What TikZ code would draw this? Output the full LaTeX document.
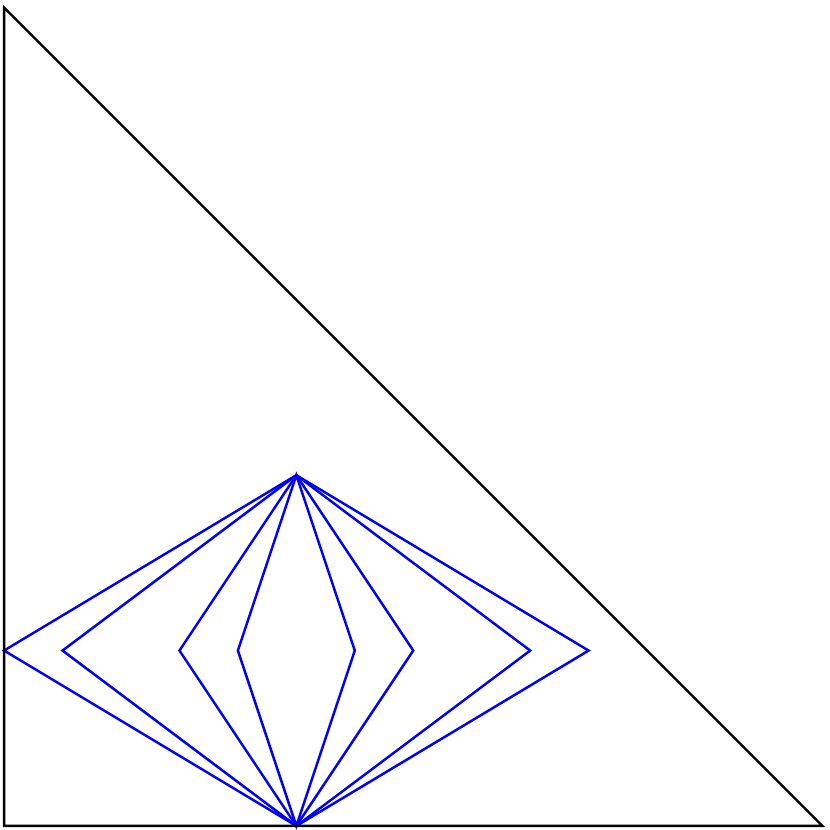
\documentclass[tikz,border=0pt]{standalone}
\begin{document}
\begin{tikzpicture}[
  tri/.style={black, line width=0.6pt},
  quad/.style={blue, line width=0.6pt, line join=miter}]
\useasboundingbox (-0.035,-0.035) rectangle (7.065,7.065);
\coordinate (O) at (0,0);
\coordinate (A) at (7,0);
\coordinate (B) at (0,7);
\coordinate (T) at (2.5,3);
\coordinate (D) at (2.5,0);
\foreach \i/\l/\r in {1/0/5, 2/0.5/4.5, 3/1.5/3.5, 4/2/3} {
  \coordinate (L\i) at (\l,1.5);
  \coordinate (R\i) at (\r,1.5);
  \draw[quad] (T) -- (L\i) -- (D) -- (R\i) -- cycle;
}
\draw[tri] (O) -- (A) -- (B) -- cycle;
\end{tikzpicture}
\end{document}
